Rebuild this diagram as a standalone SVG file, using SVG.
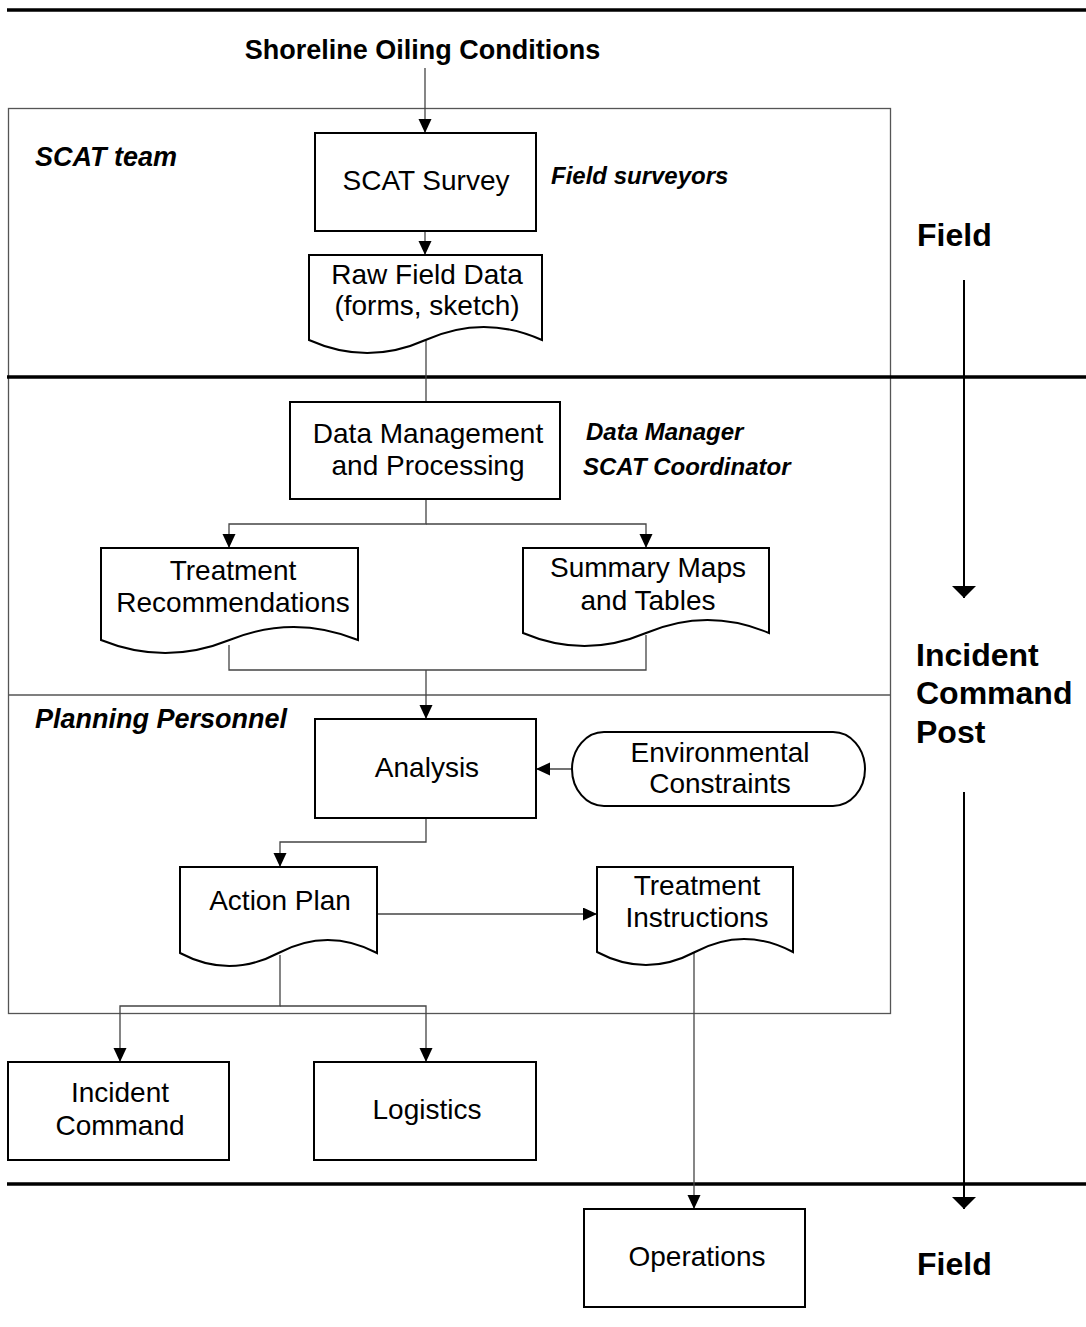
<svg xmlns="http://www.w3.org/2000/svg" width="1086" height="1327" viewBox="0 0 1086 1327">
<defs>
<style>
.lane{fill:none;stroke:#000;stroke-width:3.5}
.frame{fill:none;stroke:#555;stroke-width:1.3}
.node{fill:#fff;stroke:#000;stroke-width:2}
.conn{fill:none;stroke:#444;stroke-width:1.3}
.big{fill:none;stroke:#000;stroke-width:2}
.t{font-family:"Liberation Sans",Arial,sans-serif;font-size:28px;fill:#000;text-anchor:middle}
.role{font-family:"Liberation Sans",Arial,sans-serif;font-weight:bold;font-style:italic;fill:#000}
.loc{font-family:"Liberation Sans",Arial,sans-serif;font-weight:bold;font-size:32px;fill:#000}
</style>
<marker id="ah" markerUnits="userSpaceOnUse" markerWidth="14" markerHeight="14" refX="14" refY="6.5" orient="auto">
<path d="M0,0 L14,6.5 L0,13 Z" fill="#000"/>
</marker>
<marker id="bh" markerUnits="userSpaceOnUse" markerWidth="14" markerHeight="26" refX="12" refY="12" orient="auto">
<path d="M0,0 L12,12 L0,24 Z" fill="#000"/>
</marker>
</defs>
<rect width="1086" height="1327" fill="#fff"/>
<g id="lanes">
<rect class="frame" x="8.5" y="108.5" width="882" height="905"/>
<line class="frame" x1="8" y1="695" x2="890" y2="695"/>
<line class="lane" x1="7" y1="10" x2="1086" y2="10"/>
<line class="lane" x1="7" y1="377" x2="1086" y2="377"/>
<line class="lane" x1="7" y1="1184" x2="1086" y2="1184"/>
</g>
<g id="labels">
<text x="422.5" y="59" font-family="Liberation Sans, Arial, sans-serif" font-weight="bold" font-size="27" text-anchor="middle">Shoreline Oiling Conditions</text>
<text class="role" x="35" y="166" font-size="27">SCAT team</text>
<text class="role" x="551" y="184" font-size="24">Field surveyors</text>
<text class="role" x="586" y="440" font-size="24">Data Manager</text>
<text class="role" x="583" y="475" font-size="24">SCAT Coordinator</text>
<text class="role" x="35" y="728" font-size="27">Planning Personnel</text>
<text class="loc" x="917" y="246">Field</text>
<text class="loc" x="916" y="666">Incident</text>
<text class="loc" x="916" y="704">Command</text>
<text class="loc" x="916" y="743">Post</text>
<text class="loc" x="917" y="1275">Field</text>
</g>
<g id="connectors">
<path class="conn" d="M425,68 V133" marker-end="url(#ah)"/>
<path class="conn" d="M425,231 V255" marker-end="url(#ah)"/>
<path class="conn" d="M426,340 V402"/>
<path class="conn" d="M426,499 V524 H229 V548" marker-end="url(#ah)"/>
<path class="conn" d="M426,524 H646 V548" marker-end="url(#ah)"/>
<path class="conn" d="M229,645 V670 H646 V635"/>
<path class="conn" d="M426,670 V719" marker-end="url(#ah)"/>
<path class="conn" d="M572,769 H536" marker-end="url(#ah)"/>
<path class="conn" d="M426,818 V842 H280 V867" marker-end="url(#ah)"/>
<path class="conn" d="M377,914 H597" marker-end="url(#ah)"/>
<path class="conn" d="M280,955 V1006 H120 V1062" marker-end="url(#ah)"/>
<path class="conn" d="M280,1006 H426 V1062" marker-end="url(#ah)"/>
<path class="conn" d="M694,950 V1209" marker-end="url(#ah)"/>
<path class="big" d="M964,280 V598" marker-end="url(#bh)"/>
<path class="big" d="M964,792 V1209" marker-end="url(#bh)"/>
</g>
<g id="scat-survey">
<rect class="node" x="315" y="133" width="221" height="98"/>
<text class="t" x="426" y="190">SCAT Survey</text>
</g>
<g id="raw-field-data">
<path class="node" d="M309,255 H542 V340 Q483.75,314 425.5,340 Q367.25,366 309,340 Z"/>
<text class="t" x="427" y="284">Raw Field Data</text>
<text class="t" x="427" y="315">(forms, sketch)</text>
</g>
<g id="data-management">
<rect class="node" x="290" y="402" width="270" height="97"/>
<text class="t" x="428" y="443">Data Management</text>
<text class="t" x="428" y="475">and Processing</text>
</g>
<g id="treatment-recommendations">
<path class="node" d="M101,548 H358 V640 Q293.75,614 229.5,640 Q165.25,666 101,640 Z"/>
<text class="t" x="233" y="580">Treatment</text>
<text class="t" x="233" y="612">Recommendations</text>
</g>
<g id="summary-maps">
<path class="node" d="M523,548 H769 V633 Q707.5,607 646,633 Q584.5,659 523,633 Z"/>
<text class="t" x="648" y="577">Summary Maps</text>
<text class="t" x="648" y="610">and Tables</text>
</g>
<g id="analysis">
<rect class="node" x="315" y="719" width="221" height="99"/>
<text class="t" x="427" y="777">Analysis</text>
</g>
<g id="environmental-constraints">
<rect class="node" x="572" y="732" width="293" height="74" rx="32" ry="37"/>
<text class="t" x="720" y="762">Environmental</text>
<text class="t" x="720" y="793">Constraints</text>
</g>
<g id="action-plan">
<path class="node" d="M180,867 H377 V953 Q327.75,927 278.5,953 Q229.25,979 180,953 Z"/>
<text class="t" x="280" y="910">Action Plan</text>
</g>
<g id="treatment-instructions">
<path class="node" d="M597,867 H793 V952 Q744,926 695,952 Q646,978 597,952 Z"/>
<text class="t" x="697" y="895">Treatment</text>
<text class="t" x="697" y="927">Instructions</text>
</g>
<g id="incident-command">
<rect class="node" x="8" y="1062" width="221" height="98"/>
<text class="t" x="120" y="1102">Incident</text>
<text class="t" x="120" y="1135">Command</text>
</g>
<g id="logistics">
<rect class="node" x="314" y="1062" width="222" height="98"/>
<text class="t" x="427" y="1119">Logistics</text>
</g>
<g id="operations">
<rect class="node" x="584" y="1209" width="221" height="98"/>
<text class="t" x="697" y="1266">Operations</text>
</g>
</svg>
